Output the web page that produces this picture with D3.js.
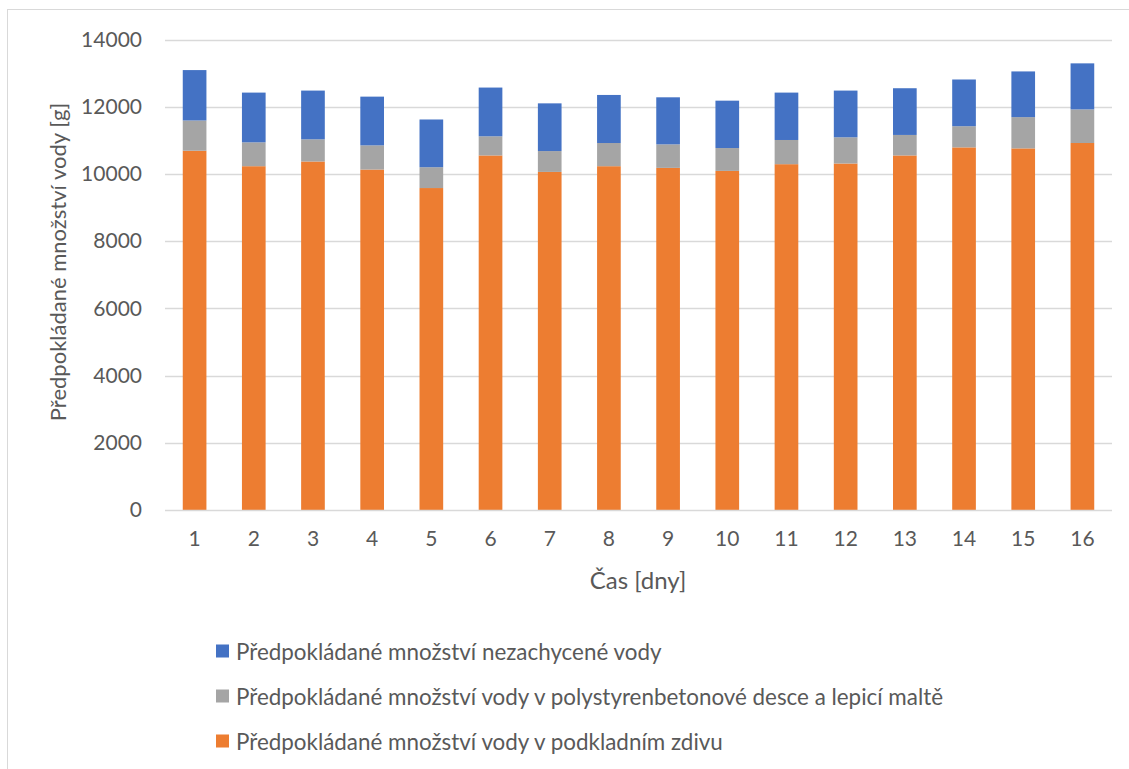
<!DOCTYPE html>
<html>
<head>
<meta charset="utf-8">
<script src="https://cdn.jsdelivr.net/npm/d3@7"></script>
<style>
  html, body { margin: 0; padding: 0; background: #fff; }
  svg text { font-family: Lato, "Open Sans", sans-serif; fill: #595959; }
</style>
</head>
<body>
<svg id="chart" width="1129" height="769"></svg>
<script>
// Days on the x axis
const days = ["1","2","3","4","5","6","7","8","9","10","11","12","13","14","15","16"];
// Water in the underlying masonry [g]
const masonry = [10690,10230,10370,10130,9580,10550,10060,10230,10180,10090,10290,10310,10550,10790,10760,10920];
// Water in the polystyrene-concrete board and adhesive mortar [g]
const board = [900,710,660,720,620,570,620,690,700,680,720,780,610,630,930,1000];
// Water not retained [g]
const unretained = [1500,1480,1450,1450,1420,1450,1420,1430,1400,1410,1410,1390,1390,1390,1360,1370];
const yTicks = [0,2000,4000,6000,8000,10000,12000,14000];

const seriesNames = {
  masonry: "Předpokládané množství vody v podkladním zdivu",
  board: "Předpokládané množství vody v polystyrenbetonové desce a lepicí maltě",
  unretained: "Předpokládané množství nezachycené vody"
};
const colors = { masonry: "#ed7d31", board: "#a5a5a5", unretained: "#4472c4" };

const svg = d3.select("#chart");

// chart frame
svg.append("rect")
  .attr("x", 7.5).attr("y", 9.5)
  .attr("width", 1200).attr("height", 900)
  .attr("fill", "none").attr("stroke", "#d9d9d9").attr("stroke-width", 1);

const plot = { left: 165, right: 1112, top: 39.5, bottom: 510 };

const x = d3.scaleBand().domain(days).range([plot.left, plot.right]).paddingInner(0.6).paddingOuter(0.3);
const y = d3.scaleLinear().domain([0, 14000]).range([plot.bottom, plot.top]);

// gridlines
svg.append("g").selectAll("line").data(yTicks.filter(d => d > 0)).join("line")
  .attr("x1", plot.left).attr("x2", plot.right)
  .attr("y1", d => Math.round(y(d)) + 0.5).attr("y2", d => Math.round(y(d)) + 0.5)
  .attr("stroke", "#d9d9d9").attr("stroke-width", 1.3);

// stacked bars
const rows = days.map((d, i) => ({ day: d, masonry: masonry[i], board: board[i], unretained: unretained[i] }));
const keys = ["masonry", "board", "unretained"];
const stacked = d3.stack().keys(keys)(rows);

svg.append("g").selectAll("g").data(stacked).join("g")
  .attr("fill", s => colors[s.key])
  .selectAll("rect").data(s => s).join("rect")
  .attr("x", d => x(d.data.day))
  .attr("width", x.bandwidth())
  .attr("y", d => y(d[1]))
  .attr("height", d => y(d[0]) - y(d[1]));

// x axis line
svg.append("line")
  .attr("x1", plot.left).attr("x2", plot.right)
  .attr("y1", plot.bottom + 0.5).attr("y2", plot.bottom + 0.5)
  .attr("stroke", "#d9d9d9").attr("stroke-width", 1.3);

// y tick labels
const yAxis = svg.append("g")
  .attr("transform", `translate(${plot.left - 23},0)`)
  .call(d3.axisLeft(y).tickValues(yTicks).tickFormat(d3.format("d")).tickSize(0).tickPadding(0));
yAxis.select(".domain").remove();
yAxis.selectAll("text").style("font-size", "21px").attr("fill", "#595959")
  .style("font-family", "Lato, 'Open Sans', sans-serif");

// x tick labels
const xAxis = svg.append("g")
  .attr("transform", `translate(0,${plot.bottom})`)
  .call(d3.axisBottom(x).tickSize(0).tickPadding(21));
xAxis.select(".domain").remove();
xAxis.selectAll("text").style("font-size", "21px").attr("fill", "#595959")
  .style("font-family", "Lato, 'Open Sans', sans-serif");

// axis titles
svg.append("text")
  .attr("transform", "translate(57,262) rotate(-90)")
  .attr("text-anchor", "middle").attr("dominant-baseline", "central")
  .style("font-size", "22px")
  .text("Předpokládané množství vody [g]");

svg.append("text")
  .attr("x", 638).attr("y", 579)
  .attr("text-anchor", "middle").attr("dominant-baseline", "central")
  .style("font-size", "24px")
  .text("Čas [dny]");

// legend
const legendKeys = ["unretained", "board", "masonry"];
const legend = svg.append("g").selectAll("g").data(legendKeys).join("g")
  .attr("transform", (d, i) => `translate(216,${651 + i * 45})`);
legend.append("rect")
  .attr("x", 0).attr("y", -6.5).attr("width", 13).attr("height", 13)
  .attr("fill", d => colors[d]);
legend.append("text")
  .attr("x", 20).attr("y", 0).attr("dominant-baseline", "central")
  .style("font-size", "22.4px")
  .text(d => seriesNames[d]);
</script>
</body>
</html>
